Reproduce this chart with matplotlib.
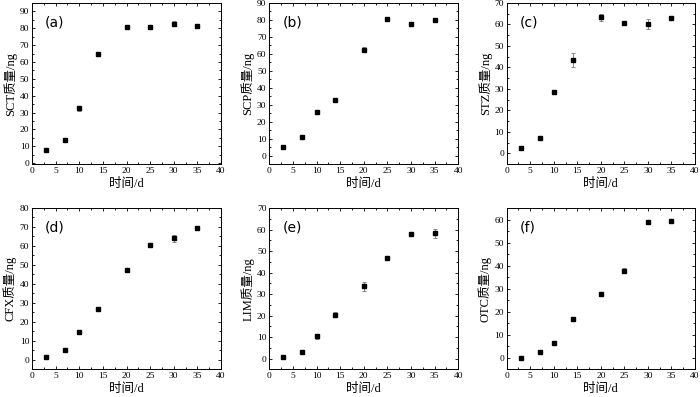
#!/usr/bin/env python3
import matplotlib
matplotlib.use("Agg")
import matplotlib.pyplot as plt
from matplotlib.ticker import MultipleLocator, AutoMinorLocator

plt.rcParams["font.family"] = ["Liberation Serif", "Noto Sans CJK SC"]

days = [3, 7, 10, 14, 20, 25, 30, 35]

names = ["SCT", "SCP", "STZ", "CFX", "LIM", "OTC"]
tags = ["(a)", "(b)", "(c)", "(d)", "(e)", "(f)"]

sct = [8.0, 14.0, 32.5, 64.8, 80.5, 80.8, 82.8, 81.3]
sct_err = [0.5, 0.8, 1.5, 0.8, 0.5, 1.2, 1.5, 1.2]
scp = [5.3, 11.0, 25.7, 32.8, 62.3, 80.5, 77.8, 79.7]
scp_err = [0.8, 0.8, 0.7, 0.8, 1.5, 1.2, 0.8, 0.6]
stz = [2.5, 7.3, 28.5, 43.5, 63.3, 60.8, 60.2, 62.8]
stz_err = [0.6, 0.6, 0.5, 3.2, 1.5, 1.0, 2.3, 0.6]
cfx = [1.3, 5.3, 14.8, 26.8, 47.3, 60.5, 64.0, 69.5]
cfx_err = [0.5, 0.6, 0.7, 0.6, 0.6, 1.2, 1.8, 0.3]
lim = [0.7, 3.0, 10.3, 20.3, 33.5, 46.8, 57.8, 58.2]
lim_err = [0.3, 0.4, 1.3, 1.2, 2.2, 0.3, 0.5, 2.2]
otc = [0.0, 2.5, 6.5, 16.8, 27.5, 37.8, 59.0, 59.3]
otc_err = [0.2, 0.4, 0.5, 0.9, 0.6, 1.0, 0.8, 0.5]

values = [sct, scp, stz, cfx, lim, otc]
errors = [sct_err, scp_err, stz_err, cfx_err, lim_err, otc_err]
ylims = [(-0.5, 95), (-5, 90), (-5, 70), (-5, 80), (-5, 70), (-5, 65)]

# axes boxes in pixels (left, top, right, bottom) of the 700x397 figure
W, H = 700, 397
lefts = [32, 269.3, 506.7]
rights = [221, 458.3, 695]
tops = [3, 208]
bottoms = [164, 369.3]

fig = plt.figure(figsize=(7, 3.97), dpi=100)

for i in range(6):
    r, c = divmod(i, 3)
    ax = fig.add_axes([lefts[c] / W, 1 - bottoms[r] / H,
                       (rights[c] - lefts[c]) / W, (bottoms[r] - tops[r]) / H])
    ax.errorbar(days, values[i], yerr=errors[i], fmt="s", color="black",
                ms=3.3, ecolor="#888888", elinewidth=0.7, capsize=1.5,
                capthick=0.7)
    ax.set_xlim(0, 40)
    ax.set_ylim(*ylims[i])
    ax.xaxis.set_major_locator(MultipleLocator(5))
    ax.yaxis.set_major_locator(MultipleLocator(10))
    ax.xaxis.set_minor_locator(AutoMinorLocator(2))
    ax.yaxis.set_minor_locator(AutoMinorLocator(2))
    ax.tick_params(which="both", direction="in", top=True, right=True,
                   labelsize=6.8, width=0.6, pad=2)
    ax.tick_params(which="major", length=2.5)
    ax.tick_params(which="minor", length=1.5)
    for s in ax.spines.values():
        s.set_linewidth(0.7)
    ax.set_xlabel("时间/d", fontsize=9, labelpad=2)
    ax.set_ylabel(names[i] + "质量/ng", fontsize=9, labelpad=2)
    ax.text(0.07, 0.88, tags[i], transform=ax.transAxes, fontsize=10,
            family="DejaVu Sans", va="center", ha="left")

fig.savefig("out.png", dpi=100)
